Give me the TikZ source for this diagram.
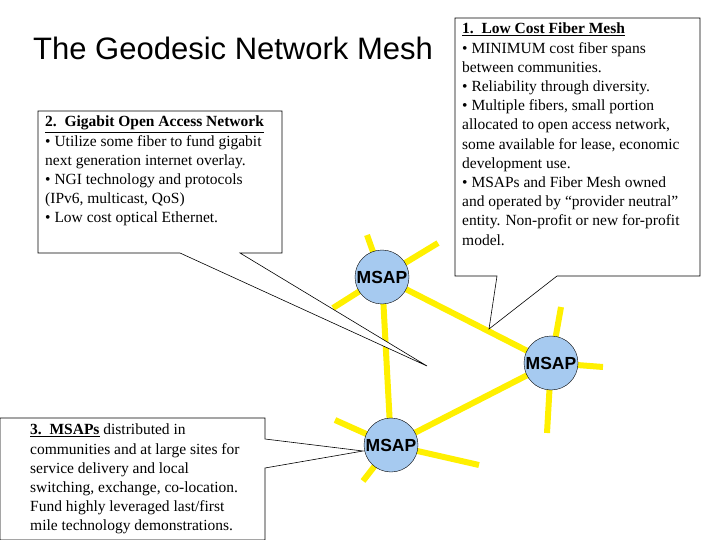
\documentclass[tikz,border=0pt]{standalone}
\usepackage{fontspec}
\setmainfont{Liberation Serif}
\newfontfamily\arialf{Liberation Sans}
\begin{document}
\begin{tikzpicture}[x=1pt,y=-1pt,
  fib/.style={line width=6pt,draw={rgb,255:red,255;green,240;blue,0}},
  msap/.style={circle,draw=black,fill={rgb,255:red,166;green,202;blue,240},minimum size=54pt,inner sep=0pt,font=\arialf\bfseries\fontsize{17.5}{17.5}\selectfont},
  call/.style={draw=black,fill=white,line width=0.6pt},
  txt/.style={anchor=north west,align=left,inner sep=0pt,font=\fontsize{15.5}{19.2}\selectfont}]
\useasboundingbox (0,0) rectangle (720,540);
\coordinate (A) at (382,277);
\coordinate (B) at (551,363);
\coordinate (C) at (391,445);
% fiber
\draw[fib] (A) -- (B) -- (C) -- (A);
\draw[fib] (A) -- (367,235); \draw[fib] (A) -- (438,243); \draw[fib] (A) -- (333,308);
\draw[fib] (B) -- (561,307); \draw[fib] (B) -- (603,367); \draw[fib] (B) -- (547,433);
\draw[fib] (C) -- (335,420); \draw[fib] (C) -- (479,465); \draw[fib] (C) -- (363,481);
% callouts
\coordinate (t1) at (489,329);
\coordinate (t2) at (427,366);
\coordinate (t3) at (363,451);
\draw[call] (455,18) -- (700,18) -- (700,276) -- (557,276) -- (t1) -- (497,276) -- (455,276) -- cycle;
\draw[call] (38,111) -- (282,111) -- (282,253) -- (240,253) -- (t2) -- (180,253) -- (38,253) -- cycle;
\draw[call] (0,418) -- (265,418) -- (265,439) -- (t3) -- (265,468) -- (265,540) -- (0,540) -- cycle;
% title
\node[anchor=west,inner sep=0pt,font=\arialf\fontsize{31}{31}\selectfont] (title) at (33,48) {The Geodesic Network Mesh};
\node[txt] (txt1) at (462,23) {\textbf{\underline{1.\ \ Low Cost Fiber Mesh}}\\
• MINIMUM cost fiber spans\\ between communities.\\
• Reliability through diversity.\\
• Multiple fibers, small portion\\ allocated to open access network,\\
some available for lease, economic\\ development use.\\
• MSAPs and Fiber Mesh owned\\ and operated by “provider neutral”\\
entity. Non-profit or new for-profit\\ model.};
\node[txt] (txt2) at (45,116) {\textbf{\underline{2.\ \ Gigabit Open Access Network}}\\
• Utilize some fiber to fund gigabit\\ next generation internet overlay.\\
• NGI technology and protocols\\ (IPv6, multicast, QoS)\\
• Low cost optical Ethernet.};
\node[txt] (txt3) at (30,424) {\textbf{\underline{3.\ \ MSAPs}} distributed in\\
communities and at large sites for\\ service delivery and local\\
switching, exchange, co-location.\\ Fund highly leveraged last/first\\
mile technology demonstrations.};
% nodes
\node[msap] (nA) at (A) {MSAP};
\node[msap] (nB) at (B) {MSAP};
\node[msap] (nC) at (C) {MSAP};
\end{tikzpicture}
\end{document}
